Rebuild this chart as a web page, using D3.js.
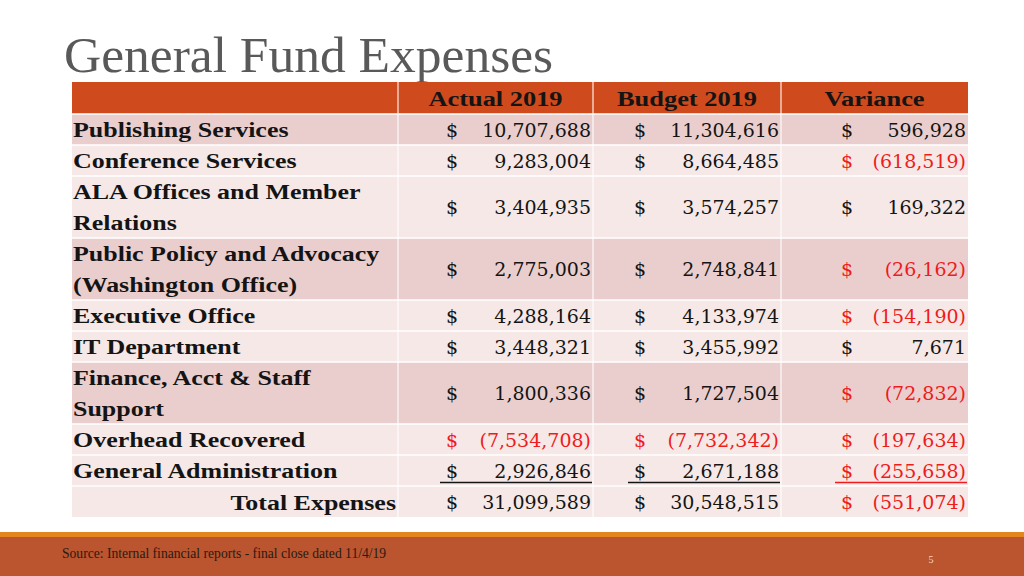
<!DOCTYPE html>
<html>
<head>
<meta charset="utf-8">
<script src="https://cdn.jsdelivr.net/npm/d3@7"></script>
<style>
  html, body { margin: 0; padding: 0; background: #ffffff; }
  svg { display: block; }
</style>
</head>
<body>
<svg id="chart" width="1024" height="576"></svg>
<script>
// ---- data ----
const title = "General Fund Expenses";
const columns = ["Actual 2019", "Budget 2019", "Variance"];
const categories = [
  "Publishing Services",
  "Conference Services",
  "ALA Offices and Member\nRelations",
  "Public Policy and Advocacy\n(Washington Office)",
  "Executive Office",
  "IT Department",
  "Finance, Acct & Staff\nSupport",
  "Overhead Recovered",
  "General Administration",
  "Total Expenses"
];
const actual2019 = [10707688, 9283004, 3404935, 2775003, 4288164, 3448321, 1800336, -7534708, 2926846, 31099589];
const budget2019 = [11304616, 8664485, 3574257, 2748841, 4133974, 3455992, 1727504, -7732342, 2671188, 30548515];
const variance   = [596928, -618519, 169322, -26162, -154190, 7671, -72832, -197634, -255658, -551074];
const shadedRows = [true, false, false, true, false, false, true, false, false, false];
const sourceNote = "Source: Internal financial reports - final close dated 11/4/19";
const pageNumber = "5";

// ---- layout ----
const svg = d3.select("#chart");
const tableLeft = 72, tableRight = 968;
const colEdges = [72, 398, 593, 781, 968];
const headerTop = 82, headerBottom = 114, tableBottom = 517;
const dollarX = [446, 634, 841];
const C = {
  header: "#CF4A1C", dark: "#EACECD", light: "#F5E8E7",
  text: "#141414", neg: "#EE1C1C", title: "#595959",
  footerLine: "#E3861E", footer: "#BA552F"
};
const labelFont = "'Liberation Serif', 'Times New Roman', serif";
const numFont = "'DejaVu Serif', serif";
const boldSize = 22;
const stretchAt = (ax, s) => `translate(${ax},0) scale(${s},1) translate(${-ax},0)`;

// title
svg.append("text")
  .attr("x", 64).attr("y", 72)
  .attr("font-family", labelFont)
  .attr("font-size", 51.5)
  .attr("fill", C.title)
  .text(title);

// row layout: each row spans as many units as lines
const lineCounts = categories.map(c => c.split("\n").length);
const cum = [0];
lineCounts.forEach(n => cum.push(cum[cum.length - 1] + n));
const y = d3.scaleLinear().domain([0, cum[cum.length - 1]]).range([headerBottom, tableBottom]);

// header
svg.append("rect")
  .attr("x", tableLeft).attr("y", headerTop)
  .attr("width", tableRight - tableLeft).attr("height", headerBottom - headerTop)
  .attr("fill", C.header);

svg.selectAll("text.colhead").data(columns).join("text")
  .attr("class", "colhead")
  .attr("x", (d, i) => (colEdges[i + 1] + colEdges[i + 2]) / 2)
  .attr("y", 106)
  .attr("transform", (d, i) => stretchAt((colEdges[i + 1] + colEdges[i + 2]) / 2, 1.2))
  .attr("text-anchor", "middle")
  .attr("font-family", labelFont)
  .attr("font-weight", "bold")
  .attr("font-size", boldSize)
  .attr("fill", C.text)
  .text(d => d);

// row backgrounds
const rows = categories.map((c, i) => ({
  label: c, lines: c.split("\n"), i,
  y0: y(cum[i]), y1: y(cum[i + 1]),
  vals: [actual2019[i], budget2019[i], variance[i]]
}));

svg.selectAll("rect.rowbg").data(rows).join("rect")
  .attr("class", "rowbg")
  .attr("x", tableLeft).attr("y", d => d.y0)
  .attr("width", tableRight - tableLeft).attr("height", d => d.y1 - d.y0)
  .attr("fill", d => shadedRows[d.i] ? C.dark : C.light);

// grid lines (white)
svg.selectAll("line.hgrid").data(rows).join("line")
  .attr("class", "hgrid")
  .attr("x1", tableLeft).attr("x2", tableRight)
  .attr("y1", d => d.y0).attr("y2", d => d.y0)
  .attr("stroke", "#ffffff").attr("stroke-width", 1.5);
svg.selectAll("line.vgrid").data(colEdges.slice(1, 4)).join("line")
  .attr("class", "vgrid")
  .attr("x1", d => d).attr("x2", d => d)
  .attr("y1", headerTop).attr("y2", tableBottom)
  .attr("stroke", "#ffffff").attr("stroke-opacity", 0.9).attr("stroke-width", 1.2);

// labels
const isTotal = d => d.i === categories.length - 1;
const anchorX = d => isTotal(d) ? colEdges[1] - 2 : tableLeft + 1;
const lbl = svg.selectAll("text.rowlabel").data(rows).join("text")
  .attr("class", "rowlabel")
  .attr("transform", d => stretchAt(anchorX(d), 1.18))
  .attr("font-family", labelFont)
  .attr("font-weight", "bold")
  .attr("font-size", boldSize)
  .attr("fill", C.text)
  .attr("text-anchor", d => isTotal(d) ? "end" : "start");
lbl.selectAll("tspan").data(d => d.lines.map((l, k) => ({ l, k, d }))).join("tspan")
  .attr("x", t => anchorX(t.d))
  .attr("y", t => (isTotal(t.d) ? t.d.y0 + 24 : y(cum[t.d.i] + t.k) + 23))
  .text(t => t.l);

// numbers
const fmt = d3.format(",");
const cells = [];
rows.forEach(r => r.vals.forEach((v, c) => cells.push({ r, c, v })));
const cellY = d => (d.r.y0 + d.r.y1) / 2 + 7;

svg.selectAll("text.dollar").data(cells).join("text")
  .attr("class", "dollar")
  .attr("x", d => dollarX[d.c])
  .attr("y", cellY)
  .attr("font-family", numFont).attr("font-size", 19)
  .attr("fill", d => d.v < 0 ? C.neg : C.text)
  .text("$");

svg.selectAll("text.num").data(cells).join("text")
  .attr("class", "num")
  .attr("x", d => colEdges[d.c + 2] - 2)
  .attr("y", cellY)
  .attr("text-anchor", "end")
  .attr("font-family", numFont).attr("font-size", 19)
  .attr("fill", d => d.v < 0 ? C.neg : C.text)
  .text(d => d.v < 0 ? "(" + fmt(-d.v) + ")" : fmt(d.v));

// accounting underline under General Administration
const gaRow = rows[8];
svg.selectAll("line.uline").data(cells.filter(d => d.r === gaRow)).join("line")
  .attr("class", "uline")
  .attr("x1", d => dollarX[d.c] - 6).attr("x2", d => colEdges[d.c + 2] - 1)
  .attr("y1", gaRow.y1 - 3.5).attr("y2", gaRow.y1 - 3.5)
  .attr("stroke", d => d.v < 0 ? C.neg : C.text).attr("stroke-width", 1.3);

// footer
svg.append("rect").attr("x", 0).attr("y", 532).attr("width", 1024).attr("height", 5).attr("fill", C.footerLine);
svg.append("rect").attr("x", 0).attr("y", 537).attr("width", 1024).attr("height", 39).attr("fill", C.footer);
svg.append("text").attr("x", 62).attr("y", 558)
  .attr("font-family", labelFont).attr("font-size", 13.6).attr("fill", "#2a1a12")
  .text(sourceNote);
svg.append("text").attr("x", 931).attr("y", 563).attr("text-anchor", "middle")
  .attr("font-family", labelFont).attr("font-size", 10).attr("fill", "#F6D9C4")
  .text(pageNumber);
</script>
</body>
</html>
